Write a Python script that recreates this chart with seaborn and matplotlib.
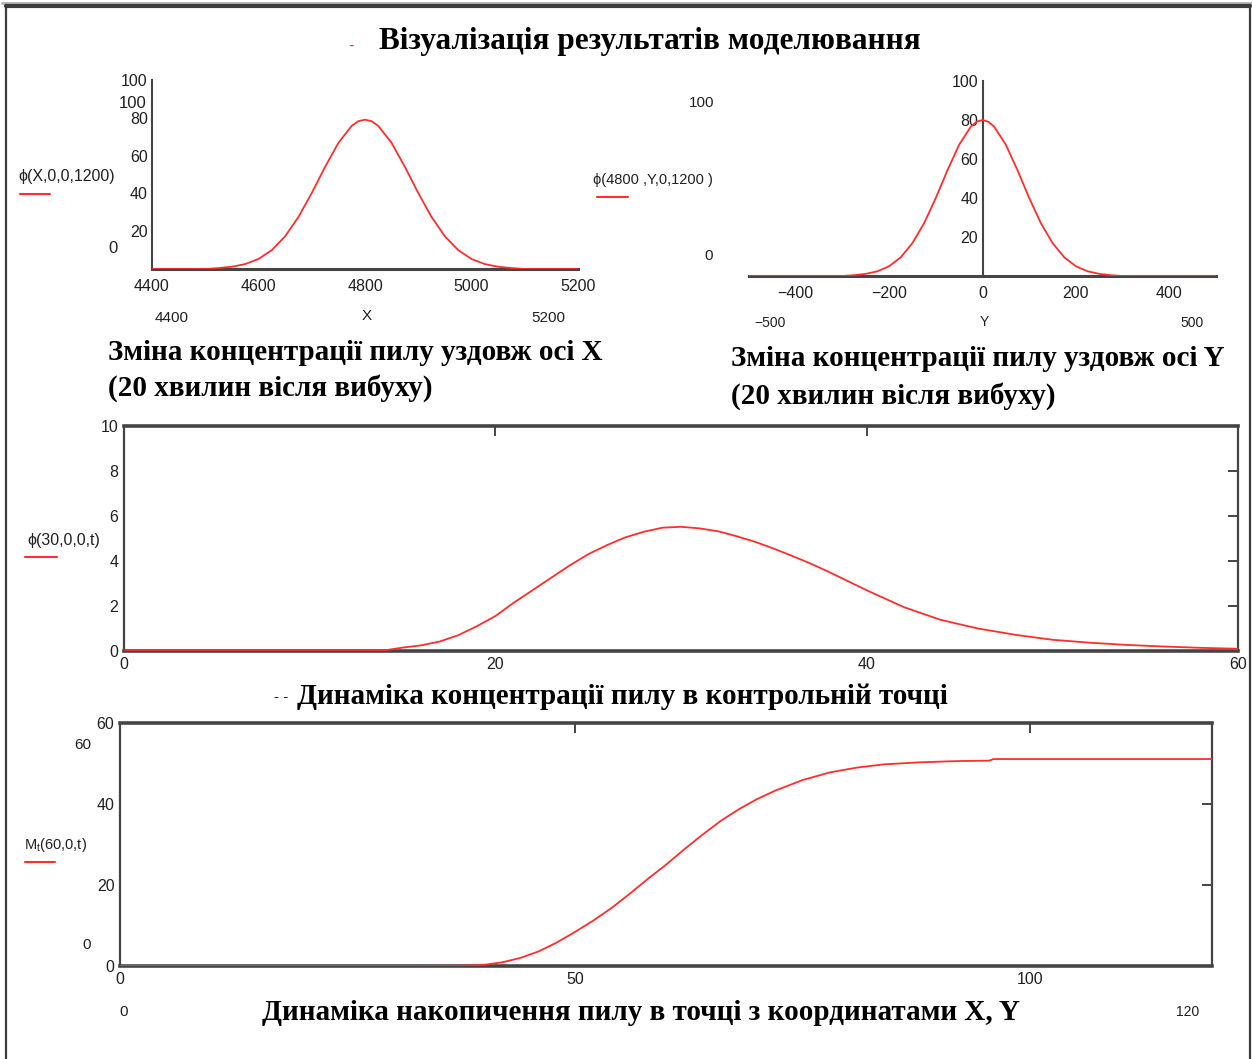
import matplotlib
matplotlib.use("Agg")
import matplotlib.pyplot as plt
import seaborn as sns
from matplotlib.lines import Line2D

# values
x_pos = [4400, 4450, 4500, 4525, 4550, 4575, 4600, 4625, 4650, 4675, 4700, 4725, 4750, 4775, 4787.5,
         4800, 4812.5, 4825, 4850, 4875, 4900, 4925, 4950, 4975, 5000, 5025, 5050, 5075, 5100, 5150, 5200]
phi_x = [0, 0, 0, 0.5, 1.2, 2.6, 5.3, 10.0, 17.3, 27.5, 40.2, 54.0, 66.7, 75.7, 78.2,
         79.0, 78.2, 75.7, 66.7, 54.0, 40.2, 27.5, 17.3, 10.0, 5.3, 2.6, 1.2, 0.5, 0, 0, 0]

y_pos = [-500, -400, -325, -300, -275, -250, -225, -200, -175, -150, -125, -100, -75, -50, -25, -12.5,
         0, 12.5, 25, 50, 75, 100, 125, 150, 175, 200, 225, 250, 275, 300, 325, 400, 500]
phi_y = [0, 0, 0, 0, 0.4, 1.1, 2.4, 5.0, 9.6, 16.9, 27.1, 40.0, 54.2, 67.3, 76.6, 79.1,
         80.0, 79.1, 76.6, 67.3, 54.2, 40.0, 27.1, 16.9, 9.6, 5.0, 2.4, 1.1, 0.4, 0, 0, 0, 0]

t_conc = [0, 13.8, 15, 16, 17, 18, 19, 20, 21, 22, 23, 24, 25, 26, 27, 28, 29, 30, 31, 32, 33,
          34, 35, 36, 37, 38, 39, 40, 42, 44, 46, 48, 50, 52, 54, 56, 58, 60]
phi_t = [0, 0, 0.15, 0.25, 0.42, 0.7, 1.1, 1.55, 2.15, 2.7, 3.25, 3.8, 4.3, 4.7, 5.05, 5.3, 5.48,
         5.52, 5.45, 5.32, 5.1, 4.85, 4.55, 4.22, 3.88, 3.5, 3.1, 2.7, 1.95, 1.38, 1.0, 0.72,
         0.5, 0.37, 0.27, 0.2, 0.14, 0.1]

t_acc = [0, 33, 38, 40, 42, 44, 46, 48, 50, 52, 54, 56, 58, 60, 62, 64, 66, 68, 70, 72, 75, 78,
         81, 84, 88, 92, 95.5, 96, 100, 110, 120]
m_t = [0, 0, 0.1, 0.3, 0.9, 2.0, 3.6, 5.8, 8.4, 11.2, 14.3, 17.8, 21.5, 25.0, 28.8, 32.4, 35.8,
       38.7, 41.2, 43.3, 45.9, 47.8, 49.0, 49.8, 50.3, 50.6, 50.7, 51.1, 51.1, 51.1, 51.1]

title = "Візуалізація результатів моделювання"
cap_x = ["Зміна концентрації пилу уздовж осі X", "(20 хвилин вісля вибуху)"]
cap_y = ["Зміна концентрації пилу уздовж осі Y", "(20 хвилин вісля вибуху)"]
cap_t = "Динаміка концентрації пилу в контрольній точці"
cap_m = "Динаміка накопичення пилу в точці з координатами X, Y"

W, H = 1252, 1059
RED = "#ff2e2e"
AX = "#454545"

sns.set_style("white")
plt.rcParams["font.family"] = ["Liberation Sans Narrow", "Liberation Sans", "DejaVu Sans"]
plt.rcParams["font.size"] = 11.5
plt.rcParams["text.color"] = "#202020"
plt.rcParams["xtick.color"] = "#202020"
plt.rcParams["ytick.color"] = "#202020"

fig = plt.figure(figsize=(W / 100, H / 100), dpi=100)


def rect(l, t, r, b):
    return [l / W, 1 - b / H, (r - l) / W, (b - t) / H]


def ftext(x, y, s, **kw):
    kw.setdefault("ha", "center")
    kw.setdefault("va", "center")
    fig.text(x / W, 1 - y / H, s, **kw)


def fline(x0, x1, y0, y1, **kw):
    fig.add_artist(Line2D([x0 / W, x1 / W], [1 - y0 / H, 1 - y1 / H], transform=fig.transFigure, **kw))


serif = dict(family=["Liberation Serif", "DejaVu Serif"], weight="bold", fontsize=21, color="black")

# outer frame
fline(2, 1252, 3, 3, color="#b0b0b0", lw=2)
fline(6, 1250, 6, 6, color="#3c3c3c", lw=3)
fline(6, 6, 5, 1059, color="#3c3c3c", lw=1.6)
fline(1250, 1250, 5, 1059, color="#3c3c3c", lw=1.6)

ftext(650, 42, title, **dict(serif, fontsize=22.5))
ftext(351, 46, "-", color="#c04a2a", fontsize=12)

# panel 1: along X
ax1 = fig.add_axes(rect(152, 80, 578, 269))
sns.lineplot(x=x_pos, y=phi_x, ax=ax1, color=RED, lw=1.3, zorder=3)
ax1.set_xlim(4400, 5200)
ax1.set_ylim(0, 100)
ax1.set_xticks([4400, 4600, 4800, 5000, 5200])
ax1.set_yticks([20, 40, 60, 80, 100])
ax1.spines[["top", "right"]].set_visible(False)
ax1.spines["bottom"].set_linewidth(2.2)
ax1.spines["left"].set_linewidth(1.5)
for s in ax1.spines.values():
    s.set_color(AX)
ax1.tick_params(axis="x", direction="inout", length=9, width=1.5, color=AX, pad=3)
ax1.tick_params(axis="y", direction="inout", length=6, width=1.2, color=AX, pad=0)
ax1.set_xlabel("")
ax1.set_ylabel("")
ftext(133, 103, "100", fontsize=12)
ftext(113, 248, "0", fontsize=12)
ftext(172, 318, "4400", fontsize=11)
ftext(367, 316, "X", fontsize=11)
ftext(548, 318, "5200", fontsize=11)
ftext(18, 177, "ϕ(X,0,0,1200)", ha="left", fontsize=11.5)
fline(20, 50, 194, 194, color=RED, lw=1.5)
ftext(108, 353, cap_x[0], ha="left", **serif)
ftext(108, 388, cap_x[1], ha="left", **serif)

# panel 2: along Y
ax2 = fig.add_axes(rect(749, 81, 1216, 276))
sns.lineplot(x=y_pos, y=phi_y, ax=ax2, color=RED, lw=1.3, zorder=3)
ax2.set_xlim(-500, 500)
ax2.set_ylim(0, 100)
ax2.set_xticks([-400, -200, 0, 200, 400])
ax2.set_yticks([20, 40, 60, 80, 100])
ax2.spines[["top", "right"]].set_visible(False)
ax2.spines["left"].set_position(("data", 0))
ax2.spines["bottom"].set_linewidth(2.2)
ax2.spines["left"].set_linewidth(1.5)
for s in ax2.spines.values():
    s.set_color(AX)
ax2.tick_params(axis="x", direction="inout", length=9, width=1.5, color=AX, pad=3)
ax2.tick_params(axis="y", direction="inout", length=6, width=1.2, color=AX, pad=0)
ax2.set_xlabel("")
ax2.set_ylabel("")
ftext(702, 103, "100", fontsize=11)
ftext(709, 256, "0", fontsize=11)
ftext(770, 323, "−500", fontsize=10)
ftext(984, 322, "Y", fontsize=10)
ftext(1192, 323, "500", fontsize=10)
ftext(593, 180, "ϕ(4800 ,Y,0,1200 )", ha="left", fontsize=10.5)
fline(597, 628, 197, 197, color=RED, lw=1.5)
ftext(731, 358, cap_y[0], ha="left", **serif)
ftext(731, 396, cap_y[1], ha="left", **serif)

# panel 3: concentration vs time
ax3 = fig.add_axes(rect(124, 426, 1238, 651))
sns.lineplot(x=t_conc, y=phi_t, ax=ax3, color=RED, lw=1.3, zorder=3)
ax3.set_xlim(0, 60)
ax3.set_ylim(0, 10)
ax3.set_xticks([0, 20, 40, 60])
ax3.set_yticks([0, 2, 4, 6, 8, 10])
for k, s in ax3.spines.items():
    s.set_color(AX)
    s.set_linewidth(2.6 if k in ("top", "bottom") else 1.6)
ax3.tick_params(direction="in", top=True, right=True, length=7, width=1.4, color=AX, pad=4)
ax3.set_xlabel("")
ax3.set_ylabel("")
ftext(27, 540, "ϕ(30,0,0,t)", ha="left", fontsize=11.5)
fline(25, 57, 557, 557, color=RED, lw=1.5)
ftext(281, 697, "- -", fontsize=11)
ftext(297, 697, cap_t, ha="left", **serif)

# panel 4: accumulation vs time
ax4 = fig.add_axes(rect(120, 723, 1212, 966))
sns.lineplot(x=t_acc, y=m_t, ax=ax4, color=RED, lw=1.3, zorder=3)
ax4.set_xlim(0, 120)
ax4.set_ylim(0, 60)
ax4.set_xticks([0, 50, 100])
ax4.set_yticks([0, 20, 40, 60])
for k, s in ax4.spines.items():
    s.set_color(AX)
    s.set_linewidth(2.6 if k in ("top", "bottom") else 1.6)
ax4.tick_params(direction="in", top=True, right=True, length=7, width=1.4, color=AX, pad=4)
ax4.set_xlabel("")
ax4.set_ylabel("")
ftext(83, 745, "60", fontsize=11)
ftext(87, 945, "0", fontsize=11)
ftext(124, 1012, "0", fontsize=11)
ftext(1188, 1012, "120", fontsize=10)
ftext(24, 845, r"$\mathregular{M_t}$(60,0,t)", ha="left", fontsize=10.5)
fline(25, 55, 862, 862, color=RED, lw=1.5)
ftext(262, 1012, cap_m, ha="left", **serif)

fig.savefig("out.png", dpi=100)
